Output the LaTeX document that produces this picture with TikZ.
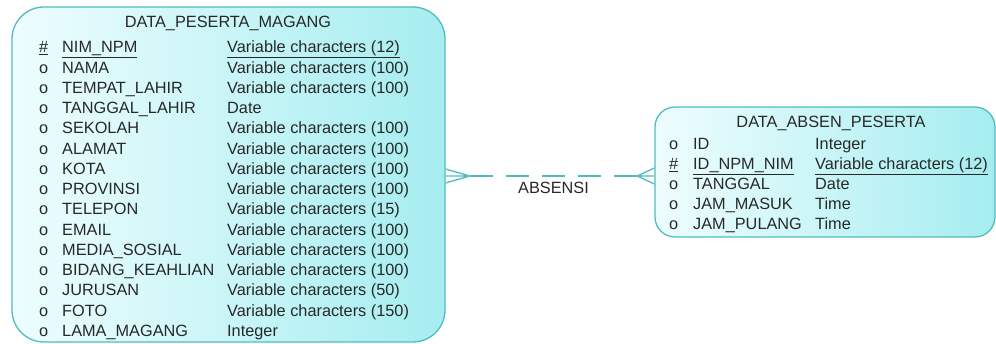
\documentclass[tikz,border=0pt]{standalone}
\usepackage{fontspec}
\setmainfont{Liberation Sans}
\usetikzlibrary{positioning}
\definecolor{pdline}{RGB}{80,188,190}
\definecolor{pdtext}{RGB}{40,40,40}
\definecolor{pdlight}{RGB}{238,253,254}
\definecolor{pddark}{RGB}{165,237,240}
\newcommand{\pdkey}[1]{\underline{#1}}

\begin{document}
\begin{tikzpicture}[x=1pt,y=-1pt,
  entity/.style={draw=pdline, line width=1.3pt, left color=pdlight, right color=pddark, inner sep=0pt},
  attr/.style={anchor=base west, inner sep=0pt, text=pdtext, font=\fontsize{16.3}{19}\selectfont},
  etitle/.style={anchor=base, inner sep=0pt, text=pdtext, font=\fontsize{16.3}{19}\selectfont},
  rel/.style={draw=pdline, line width=1.3pt}]
\useasboundingbox (0,0) rectangle (996,344);

% entities
\node[entity, rounded corners=32pt, minimum width=433pt, minimum height=335pt] (peserta) at (228.5,174.5) {};
\node[entity, rounded corners=20pt, minimum width=340pt, minimum height=130pt] (absen) at (825,172) {};

\node[etitle] (peserta-t) at (228,28) {DATA\_PESERTA\_MAGANG};
\node[etitle] (absen-t) at (831,128) {DATA\_ABSEN\_PESERTA};

% attributes of DATA_PESERTA_MAGANG
\foreach \mk/\nm/\ty [count=\i from 0] in {
  {\pdkey{\#}}/{\pdkey{NIM\_NPM}}/{\pdkey{Variable characters (12)}},
  o/NAMA/{Variable characters (100)},
  o/TEMPAT\_LAHIR/{Variable characters (100)},
  o/TANGGAL\_LAHIR/Date,
  o/SEKOLAH/{Variable characters (100)},
  o/ALAMAT/{Variable characters (100)},
  o/KOTA/{Variable characters (100)},
  o/PROVINSI/{Variable characters (100)},
  o/TELEPON/{Variable characters (15)},
  o/EMAIL/{Variable characters (100)},
  o/MEDIA\_SOSIAL/{Variable characters (100)},
  o/BIDANG\_KEAHLIAN/{Variable characters (100)},
  o/JURUSAN/{Variable characters (50)},
  o/FOTO/{Variable characters (150)},
  o/LAMA\_MAGANG/Integer}
{
  \node[attr] (p-mk-\i) at (39,52.8+20.25*\i) {\mk};
  \node[attr] (p-nm-\i) at (62,52.8+20.25*\i) {\nm};
  \node[attr] (p-ty-\i) at (227,52.8+20.25*\i) {\ty};
}

% attributes of DATA_ABSEN_PESERTA
\foreach \mk/\nm/\ty [count=\i from 0] in {
  o/ID/Integer,
  {\pdkey{\#}}/{\pdkey{ID\_NPM\_NIM}}/{\pdkey{Variable characters (12)}},
  o/TANGGAL/Date,
  o/JAM\_MASUK/Time,
  o/JAM\_PULANG/Time}
{
  \node[attr] (a-mk-\i) at (669,149.8+20*\i) {\mk};
  \node[attr] (a-nm-\i) at (693,149.8+20*\i) {\nm};
  \node[attr] (a-ty-\i) at (815,149.8+20*\i) {\ty};
}

% relationship
\path (peserta.east) ++(0,1.5) coordinate (lend) ++(24,0) coordinate (lfoot);
\path (absen.west) ++(0,4) coordinate (rend) ++(-17,0) coordinate (rfoot);
\draw[rel] (lfoot) -- ++(-24,-7) (lfoot) -- (lend) (lfoot) -- ++(-24,7);
\draw[rel] (rfoot) -- ++(17,-8) (rfoot) -- (rend) (rfoot) -- ++(17,8);
\draw[rel, dash pattern=on 23pt off 13pt] (lfoot) -- (rfoot)
  node[midway, below=5pt, inner sep=0pt, text=pdtext, font=\fontsize{16.3}{19}\selectfont] (absensi) {ABSENSI};
\end{tikzpicture}
\end{document}
